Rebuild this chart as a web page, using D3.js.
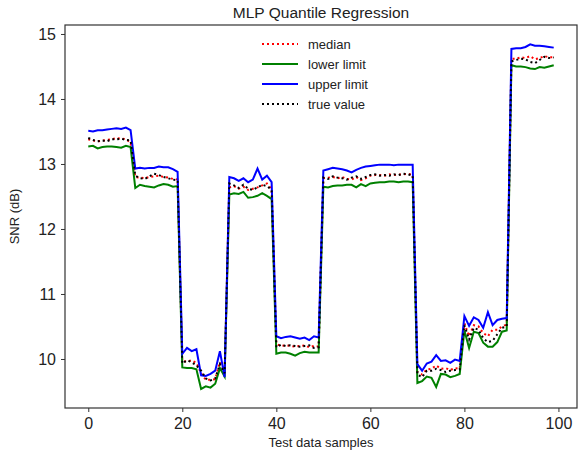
<!DOCTYPE html>
<html>
<head>
<meta charset="utf-8">
<script src="https://cdn.jsdelivr.net/npm/d3@7"></script>
<style>
  body { margin: 0; background: #fff; }
  text { font-family: "Liberation Sans", Arial, sans-serif; fill: #222; }
</style>
</head>
<body>
<div id="canvas"></div>
<script>
// values, samples 0..99
const median = [
  13.38, 13.36, 13.35, 13.36, 13.37, 13.38, 13.40, 13.39, 13.38, 13.33,
  12.80, 12.79, 12.78, 12.80, 12.81, 12.82, 12.80, 12.79, 12.77, 12.76,
  9.97, 9.96, 9.98, 9.94, 9.78, 9.68, 9.68, 9.69, 9.95, 9.80,
  12.64, 12.66, 12.62, 12.65, 12.60, 12.62, 12.64, 12.67, 12.70, 12.61,
  10.23, 10.20, 10.21, 10.20, 10.19, 10.20, 10.21, 10.18, 10.20, 10.19,
  12.78, 12.79, 12.80, 12.78, 12.80, 12.77, 12.76, 12.80, 12.75, 12.78,
  12.82, 12.83, 12.83, 12.82, 12.84, 12.83, 12.84, 12.84, 12.85, 12.83,
  9.80, 9.76, 9.84, 9.85, 9.90, 9.85, 9.86, 9.83, 9.86, 9.85,
  10.55, 10.35, 10.52, 10.50, 10.40, 10.35, 10.45, 10.45, 10.50, 10.53,
  14.62, 14.62, 14.64, 14.63, 14.66, 14.61, 14.63, 14.66, 14.64, 14.64
];
const lower = [
  13.27, 13.28, 13.24, 13.26, 13.27, 13.27, 13.26, 13.25, 13.28, 13.26,
  12.63, 12.68, 12.66, 12.65, 12.64, 12.67, 12.69, 12.68, 12.65, 12.66,
  9.87, 9.86, 9.86, 9.84, 9.54, 9.58, 9.56, 9.62, 9.86, 9.73,
  12.53, 12.55, 12.54, 12.57, 12.48, 12.49, 12.51, 12.55, 12.51, 12.46,
  10.08, 10.10, 10.10, 10.08, 10.05, 10.09, 10.11, 10.10, 10.10, 10.10,
  12.65, 12.64, 12.66, 12.67, 12.67, 12.68, 12.68, 12.64, 12.69, 12.66,
  12.70, 12.71, 12.72, 12.72, 12.73, 12.73, 12.72, 12.73, 12.73, 12.72,
  9.63, 9.66, 9.73, 9.71, 9.57, 9.77, 9.76, 9.72, 9.74, 9.77,
  10.44, 10.17, 10.42, 10.40, 10.25, 10.19, 10.19, 10.26, 10.42, 10.44,
  14.52, 14.50, 14.50, 14.49, 14.47, 14.46, 14.49, 14.48, 14.50, 14.52
];
const upper = [
  13.51, 13.50, 13.52, 13.52, 13.53, 13.54, 13.55, 13.54, 13.56, 13.52,
  12.93, 12.94, 12.93, 12.94, 12.94, 12.96, 12.95, 12.95, 12.92, 12.88,
  10.08, 10.17, 10.12, 10.15, 9.75, 9.74, 9.77, 9.82, 10.12, 9.72,
  12.80, 12.78, 12.74, 12.78, 12.72, 12.76, 12.93, 12.76, 12.82, 12.72,
  10.35, 10.32, 10.34, 10.35, 10.33, 10.31, 10.33, 10.29, 10.35, 10.33,
  12.90, 12.92, 12.94, 12.93, 12.92, 12.90, 12.87, 12.91, 12.94, 12.96,
  12.97, 12.98, 12.99, 12.99, 12.99, 12.98, 12.99, 12.99, 12.99, 12.99,
  9.92, 9.82, 9.93, 9.96, 10.06, 9.97, 9.98, 9.94, 9.99, 9.97,
  10.66, 10.51, 10.64, 10.60, 10.48, 10.72, 10.52, 10.60, 10.62, 10.63,
  14.77, 14.78, 14.78, 14.80, 14.84, 14.82, 14.82, 14.81, 14.80, 14.79
];
const trueValue = [
  13.40, 13.37, 13.35, 13.36, 13.35, 13.38, 13.38, 13.39, 13.37, 13.36,
  12.82, 12.78, 12.77, 12.81, 12.85, 12.83, 12.80, 12.78, 12.76, 12.75,
  9.93, 9.98, 9.95, 9.90, 9.82, 9.70, 9.67, 9.70, 9.92, 9.78,
  12.70, 12.67, 12.63, 12.68, 12.62, 12.60, 12.64, 12.68, 12.66, 12.60,
  10.18, 10.22, 10.20, 10.21, 10.20, 10.19, 10.20, 10.21, 10.17, 10.18,
  12.79, 12.77, 12.81, 12.79, 12.78, 12.76, 12.79, 12.81, 12.77, 12.80,
  12.83, 12.84, 12.82, 12.83, 12.82, 12.84, 12.83, 12.85, 12.84, 12.82,
  9.76, 9.72, 9.82, 9.82, 9.85, 9.83, 9.80, 9.82, 9.83, 9.84,
  10.52, 10.30, 10.48, 10.45, 10.32, 10.26, 10.28, 10.38, 10.48, 10.50,
  14.58, 14.60, 14.62, 14.61, 14.57, 14.55, 14.60, 14.65, 14.63, 14.64
];
const xTicks = [0, 20, 40, 60, 80, 100];
const yTicks = [10, 11, 12, 13, 14, 15];
const seriesNames = ["median", "lower limit", "upper limit", "true value"];

const width = 582;
const height = 452;
const margin = { top: 25, left: 65, bottom: 44, right: 5 };
const iwidth = width - margin.left - margin.right;
const iheight = height - margin.top - margin.bottom;

const svg = d3.select("#canvas").append("svg")
  .attr("width", width)
  .attr("height", height);

const g = svg.append("g")
  .attr("transform", `translate(${margin.left}, ${margin.top})`);

const x = d3.scaleLinear().domain([-4.95, 103.95]).range([0, iwidth]);
const y = d3.scaleLinear().domain([9.246, 15.138]).range([iheight, 0]);

const series = [
  { name: seriesNames[0], values: median, color: "#ff0000", dash: "2,3" },
  { name: seriesNames[1], values: lower, color: "#008000", dash: null },
  { name: seriesNames[2], values: upper, color: "#0000ff", dash: null },
  { name: seriesNames[3], values: trueValue, color: "#000000", dash: "2,3" }
];

const line = d3.line()
  .x((d, i) => x(i))
  .y((d) => y(d));

g.selectAll("path.series")
  .data(series)
  .enter()
  .append("path")
  .attr("class", "series")
  .attr("d", (s) => line(s.values))
  .attr("fill", "none")
  .attr("stroke", (s) => s.color)
  .attr("stroke-width", 2)
  .attr("stroke-dasharray", (s) => s.dash);

// axes
const xAxis = g.append("g")
  .attr("transform", `translate(0, ${iheight})`)
  .call(d3.axisBottom(x).tickValues(xTicks).tickSize(4).tickPadding(6));
const yAxis = g.append("g")
  .call(d3.axisLeft(y).tickValues(yTicks).tickFormat(d3.format("d")).tickSize(4).tickPadding(5));
[xAxis, yAxis].forEach((a) => {
  a.select(".domain").remove();
  a.selectAll("line").attr("stroke", "#333");
  a.selectAll("text").style("font-size", "16px").style("fill", "#222");
});

g.append("rect")
  .attr("width", iwidth)
  .attr("height", iheight)
  .attr("fill", "none")
  .attr("stroke", "#333")
  .attr("stroke-width", 1.2);

// legend
const legend = g.append("g").attr("transform", "translate(197, 19)");
const items = legend.selectAll("g")
  .data(series)
  .enter()
  .append("g")
  .attr("transform", (s, i) => `translate(0, ${i * 20})`);
items.append("line")
  .attr("x1", 0).attr("x2", 36)
  .attr("stroke", (s) => s.color)
  .attr("stroke-width", 2)
  .attr("stroke-dasharray", (s) => s.dash);
items.append("text")
  .attr("x", 46)
  .attr("dy", "0.35em")
  .style("font-size", "13px")
  .text((s) => s.name);

svg.append("text")
  .attr("x", margin.left + iwidth / 2)
  .attr("y", 18)
  .attr("text-anchor", "middle")
  .style("font-size", "15.5px")
  .text("MLP Quantile Regression");

svg.append("text")
  .attr("x", margin.left + iwidth / 2)
  .attr("y", 447)
  .attr("text-anchor", "middle")
  .style("font-size", "13px")
  .text("Test data samples");

svg.append("text")
  .attr("transform", `translate(19, ${margin.top + iheight / 2}) rotate(-90)`)
  .attr("text-anchor", "middle")
  .style("font-size", "13px")
  .text("SNR (dB)");
</script>
</body>
</html>
